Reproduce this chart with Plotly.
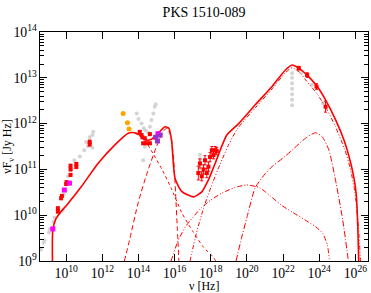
import numpy as np
import plotly.graph_objects as go

# ---------------- model curves (log10 nu [Hz], log10 nuFnu [Jy Hz]) ----------------
total_lognu = [9.26, 9.26, 9.44, 9.72, 10.09, 10.83, 11.76, 12.68, 13.43, 13.8, 14.17, 14.44,
               14.72, 15.09, 15.46, 15.68, 15.83, 16.02, 16.39, 17.04, 17.5, 17.87, 18.24,
               18.89, 19.54, 20.46, 21.39, 22.13, 22.5, 22.87, 23.33, 23.89, 24.35, 24.91,
               25.37, 25.65, 25.93, 26.05, 26.14, 26.22]
total_logflux = [8.5, 9.68, 9.93, 10.08, 10.25, 10.62, 11.13, 11.53, 11.79, 11.80, 11.73, 11.64,
                 11.66, 11.79, 11.93, 11.90, 11.64, 10.81, 10.52, 10.40, 10.51, 10.77, 11.13,
                 11.75, 12.0, 12.41, 12.81, 13.17, 13.28, 13.21, 13.06, 12.81, 12.52, 12.08,
                 11.64, 11.28, 10.8, 10.45, 9.7, 8.5]

sync_lognu = [13.8, 14.3, 14.8, 15.3, 15.8, 16.4, 17.0, 17.6, 18.1, 18.45]
sync_logflux = [11.79, 11.66, 11.35, 11.0, 10.6, 10.05, 9.65, 9.3, 9.1, 8.9]

disk_lognu = [13.22, 13.5, 14.0, 14.5, 15.0, 15.4, 15.6, 15.8, 15.95, 16.05, 16.15, 16.25]
disk_logflux = [9.0, 9.45, 10.3, 10.95, 11.5, 11.85, 11.9, 11.7, 11.2, 10.5, 9.7, 8.9]

ssc_lognu = [15.8, 16.2, 16.6, 17.0, 17.5, 18.0, 18.6, 19.3, 20.0, 20.7, 21.3, 21.9, 22.5,
             23.2, 23.8, 24.2, 24.45, 24.6]
ssc_logflux = [9.0, 9.45, 9.75, 9.95, 10.17, 10.33, 10.48, 10.6, 10.66, 10.6, 10.42, 10.22,
               10.07, 9.9, 9.75, 9.6, 9.35, 8.9]

ecblr_lognu = [16.85, 17.2, 17.6, 18.0, 18.5, 19.0, 19.5, 20.5, 21.4, 22.1, 22.5, 22.9, 23.3,
               23.9, 24.4, 24.9, 25.4, 25.7, 25.98, 26.18, 26.3]
ecblr_logflux = [9.0, 9.6, 10.15, 10.6, 11.1, 11.55, 11.9, 12.36, 12.76, 13.1, 13.22, 13.12,
                 12.93, 12.64, 12.33, 11.93, 11.45, 11.05, 10.5, 9.7, 8.9]

ecir_lognu = [19.4, 19.7, 20.0, 20.46, 21.0, 21.39, 22.0, 22.5, 23.24, 23.8, 24.17, 24.54,
              24.9, 25.3, 25.65]
ecir_logflux = [9.0, 9.5, 9.95, 10.6, 10.9, 11.06, 11.25, 11.42, 11.68, 11.8, 11.71, 11.42,
                10.77, 9.9, 8.9]

# ---------------- data points ----------------
grey_lognu = [8.6, 8.75, 8.8, 9.05, 9.1, 9.3, 9.35, 9.6, 9.8, 9.85, 10.1, 10.3, 10.45, 10.75,
              11.0, 11.1, 11.3, 11.45, 11.5, 11.45, 11.2,
              13.9, 14.0, 14.17, 14.3, 14.4, 14.26, 14.35, 14.4, 14.63, 14.72, 14.82, 14.9,
              14.95, 14.55, 14.5,
              17.4, 17.4, 17.4, 17.4, 17.4,
              22.5, 22.5, 22.5, 22.5, 22.5, 22.5, 22.5, 23.0, 23.6, 24.2]
grey_logflux = [9.25, 9.4, 9.45, 9.62, 9.7, 9.85, 9.95, 10.05, 10.1, 10.45, 10.85, 11.0, 11.2,
                11.28, 11.42, 11.6, 11.7, 11.75, 11.82, 11.47, 11.5,
                12.22, 12.1, 12.0, 11.9, 11.85, 11.2, 11.5, 11.65, 11.93, 12.08, 12.22, 12.37,
                12.42, 11.8, 11.6,
                10.92, 11.02, 11.12, 11.22, 11.32,
                12.4, 12.52, 12.64, 12.76, 12.88, 13.0, 13.1, 13.12, 12.85, 12.45]

red_lognu = [9.54, 9.54, 9.72, 9.76, 10.0, 10.02, 10.24, 10.24, 10.24, 10.56, 10.56, 11.3, 11.3,
             14.07, 14.17, 14.22, 14.35, 14.26, 14.44, 14.63, 14.63,
             17.31, 17.4, 17.5, 17.6, 17.68, 17.78, 17.87, 17.96, 18.06, 18.15, 18.24, 18.33,
             22.87, 23.33, 23.85, 24.35]
red_logflux = [10.08, 10.15, 10.37, 10.42, 10.68, 10.72, 10.88, 11.0, 11.08, 11.05, 11.12, 11.55, 11.6,
               11.82, 11.75, 11.70, 11.68, 11.57, 11.57, 11.77, 11.57,
               10.92, 11.13, 10.85, 11.0, 11.2, 10.92, 11.06, 11.27, 11.42, 11.31, 11.42, 11.4,
               13.21, 13.06, 12.81, 12.37]
red_logerr = [0.03, 0.03, 0.03, 0.03, 0.03, 0.03, 0.03, 0.03, 0.03, 0.03, 0.03, 0.04, 0.04,
              0.02, 0.02, 0.02, 0.02, 0.02, 0.02, 0.02, 0.02,
              0.15, 0.1, 0.1, 0.1, 0.1, 0.1, 0.1, 0.1, 0.08, 0.08, 0.08, 0.08,
              0.04, 0.05, 0.06, 0.12]

orange_lognu = [13.15, 13.39, 13.48]
orange_logflux = [12.22, 12.02, 11.88]

magenta_lognu = [9.26, 9.9, 10.18, 15.08]
magenta_logflux = [9.70, 10.55, 10.70, 11.78]

purple_lognu = [14.95, 15.2, 15.05]
purple_logflux = [11.70, 11.75, 11.62]

RED = "#ff0000"
SERIF = "Liberation Serif"


def lin(a):
    return [10 ** v for v in a]


fig = go.Figure()

fig.add_trace(go.Scatter(x=lin(grey_lognu), y=lin(grey_logflux), mode="markers",
                         marker=dict(symbol="circle", size=4, color="#d4d4d4"),
                         showlegend=False))


def add_line(xl, yl, dash, width):
    fig.add_trace(go.Scatter(x=lin(xl), y=lin(yl), mode="lines",
                             line=dict(color=RED, width=width, dash=dash, shape="spline",
                                       smoothing=0.6),
                             showlegend=False))


add_line(sync_lognu, sync_logflux, "dot", 1)
add_line(disk_lognu, disk_logflux, "5px,3px", 1)
add_line(ssc_lognu, ssc_logflux, "5px,2px,1px,2px,1px,2px", 1)
add_line(ecblr_lognu, ecblr_logflux, "4px,2px,1px,2px,1px,2px", 1)
add_line(ecir_lognu, ecir_logflux, "6px,2px,1px,2px", 1)
add_line(total_lognu, total_logflux, "solid", 1.6)

ry = lin(red_logflux)
up = [10 ** (v + e) - 10 ** v for v, e in zip(red_logflux, red_logerr)]
dn = [10 ** v - 10 ** (v - e) for v, e in zip(red_logflux, red_logerr)]
fig.add_trace(go.Scatter(x=lin(red_lognu), y=ry, mode="markers",
                         marker=dict(symbol="square", size=4, color=RED),
                         error_y=dict(type="data", array=up, arrayminus=dn, color=RED,
                                      thickness=1, width=1.5),
                         showlegend=False))

fig.add_trace(go.Scatter(x=lin(orange_lognu), y=lin(orange_logflux), mode="markers",
                         marker=dict(symbol="circle", size=5, color="#ffa500"),
                         showlegend=False))
fig.add_trace(go.Scatter(x=lin(magenta_lognu), y=lin(magenta_logflux), mode="markers",
                         marker=dict(symbol="square", size=5, color="#ff00ff"),
                         showlegend=False))
fig.add_trace(go.Scatter(x=lin(purple_lognu), y=lin(purple_logflux), mode="markers",
                         marker=dict(symbol="square", size=5, color="#9932cc"),
                         showlegend=False))

axis_common = dict(showline=True, linecolor="black", linewidth=1, mirror="allticks",
                   ticks="inside", tickcolor="black", showgrid=False, zeroline=False,
                   exponentformat="power", tickfont=dict(family=SERIF, size=11, color="black"))

fig.update_layout(
    width=371, height=293,
    margin=dict(l=40, r=3, t=32, b=32),
    paper_bgcolor="white", plot_bgcolor="white",
    title=dict(text="PKS 1510-089", x=0.55, xanchor="center", y=0.958, yanchor="middle",
               font=dict(family=SERIF, size=14, color="black")),
    xaxis=dict(type="log", range=[8.55, 26.7], dtick=2, ticklen=7, **axis_common),
    yaxis=dict(type="log", range=[9, 14], dtick=1, ticklen=7,
               minor=dict(ticks="inside", ticklen=4, dtick="D1", tickcolor="black",
                          showgrid=False),
               title=dict(text="νF<sub>ν</sub> [Jy Hz]",
                          font=dict(family=SERIF, size=12, color="black"), standoff=2),
               **axis_common),
    annotations=[dict(text="ν [Hz]", xref="paper", yref="paper", x=0.5, y=-0.108,
                      xanchor="center", yanchor="middle", showarrow=False,
                      font=dict(family=SERIF, size=12, color="black"))],
)

fig.write_html("out.html", config={"displayModeBar": False},
               post_script="document.body.style.margin='0';document.body.style.padding='0';")
